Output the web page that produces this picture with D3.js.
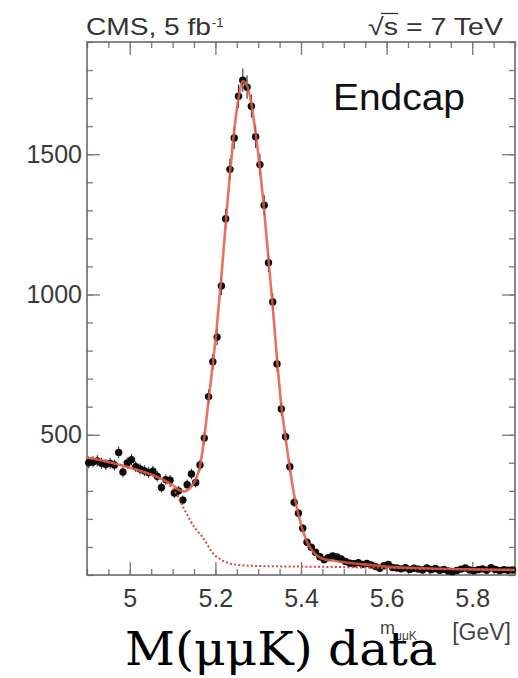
<!DOCTYPE html>
<html>
<head>
<meta charset="utf-8">
<script src="https://cdn.jsdelivr.net/npm/d3@7/dist/d3.min.js"></script>
<style>
  html, body { margin: 0; padding: 0; background: #fff; }
  svg { display: block; }
</style>
</head>
<body>
<svg id="chart" width="518" height="678"></svg>
<script>
// ---------- DATA ----------
const binMass = [4.904,4.914,4.924,4.934,4.944,4.954,4.964,4.974,4.984,4.994,
  5.004,5.014,5.024,5.034,5.044,5.054,5.064,5.074,5.084,5.094,
  5.104,5.114,5.124,5.134,5.144,5.154,5.164,5.174,5.184,5.194,
  5.204,5.214,5.224,5.234,5.244,5.254,5.264,5.274,5.284,5.294,
  5.304,5.314,5.324,5.334,5.344,5.354,5.364,5.374,5.384,5.394,
  5.404,5.414,5.424,5.434,5.444,5.454,5.464,5.474,5.484,5.494,
  5.504,5.514,5.524,5.534,5.544,5.554,5.564,5.574,5.584,5.594,
  5.604,5.614,5.624,5.634,5.644,5.654,5.664,5.674,5.684,5.694,
  5.704,5.714,5.724,5.734,5.744,5.754,5.764,5.774,5.784,5.794,
  5.804,5.814,5.824,5.834,5.844,5.854,5.864,5.874,5.884,5.894];
const counts = [400,403,407,398,394,398,392,437,367,399,
  411,386,378,372,365,370,352,312,340,338,
  292,300,267,322,360,330,392,488,636,760,
  848,1030,1270,1446,1558,1707,1764,1739,1671,1562,
  1463,1318,1113,973,752,592,493,386,259,220,
  167,117,99,81,65,54,62,68,64,57,
  48,42,40,44,38,41,36,30,24,33,
  38,27,25,22,26,20,24,21,18,25,
  19,23,17,20,14,12,16,21,25,18,
  15,19,22,17,26,20,16,19,17,18];

const fitMass = [4.900,4.950,5.000,5.050,5.080,5.100,5.115,5.124,5.134,5.144,
  5.154,5.164,5.174,5.184,5.194,5.204,5.214,5.224,5.234,5.244,
  5.254,5.264,5.274,5.284,5.294,5.304,5.314,5.324,5.334,5.344,
  5.354,5.364,5.374,5.384,5.394,5.404,5.414,5.424,5.434,5.444,
  5.454,5.480,5.520,5.560,5.600,5.650,5.700,5.800,5.900];
const fitValue = [419,403,383,358,338,321,303,298,302,316,
  340,388,490,622,752,895,1065,1250,1430,1585,
  1700,1760,1745,1680,1575,1450,1300,1125,955,770,
  605,488,380,285,215,160,118,92,74,63,
  56,50,42,36,30,26,23,20,18];

const bgMass = [4.900,4.950,5.000,5.050,5.080,5.090,5.100,5.110,5.120,5.130,
  5.140,5.150,5.164,5.170,5.180,5.190,5.200,5.210,5.220,5.230,
  5.240,5.260,5.300,5.400,5.500,5.600,5.700,5.800,5.900];
const bgValue = [419,403,383,357,337,325,308,285,256,226,
  198,172,146,135,112,86,69,58,49,43,
  39,35,32,30,28,25,22,20,18];

const xTicks = [5, 5.2, 5.4, 5.6, 5.8];
const xTickLabels = ["5", "5.2", "5.4", "5.6", "5.8"];
const yTicks = [500, 1000, 1500];
const yTickLabels = ["500", "1000", "1500"];

// ---------- LAYOUT ----------
const svg = d3.select("#chart");
const L = 87, R = 515, T = 42, B = 575;
const x = d3.scaleLinear().domain([4.9, 5.9]).range([L, R]);
const y = d3.scaleLinear().domain([0, 1900]).range([B, T]);

svg.append("rect").attr("width", 518).attr("height", 678).attr("fill", "#fff");

const tickColor = "#7a7a7a";
const fontSans = "'Liberation Sans', Arial, Helvetica, sans-serif";

function styleAxis(g) {
  g.select(".domain").remove();
  g.selectAll(".tick line").attr("stroke", tickColor).attr("stroke-width", 1.3);
  g.selectAll(".tick text").attr("fill", "#3a3a3a").attr("font-family", fontSans).attr("font-size", 25);
}

const xMinor = x.ticks(20);
const yMinor = y.ticks(19);

// minor ticks
svg.append("g").attr("transform", `translate(0,${B})`)
  .call(d3.axisBottom(x).tickValues(xMinor).tickSize(-6).tickFormat("")).call(styleAxis);
svg.append("g").attr("transform", `translate(0,${T})`)
  .call(d3.axisTop(x).tickValues(xMinor).tickSize(-6).tickFormat("")).call(styleAxis);
svg.append("g").attr("transform", `translate(${L},0)`)
  .call(d3.axisLeft(y).tickValues(yMinor).tickSize(-6).tickFormat("")).call(styleAxis);
svg.append("g").attr("transform", `translate(${R},0)`)
  .call(d3.axisRight(y).tickValues(yMinor).tickSize(-6).tickFormat("")).call(styleAxis);

// major ticks + labels
svg.append("g").attr("transform", `translate(0,${B})`)
  .call(d3.axisBottom(x).tickValues(xTicks).tickSize(-13).tickPadding(14)
    .tickFormat((d, i) => xTickLabels[i])).call(styleAxis);
svg.append("g").attr("transform", `translate(0,${T})`)
  .call(d3.axisTop(x).tickValues(xTicks).tickSize(-13).tickFormat("")).call(styleAxis);
svg.append("g").attr("transform", `translate(${L},0)`)
  .call(d3.axisLeft(y).tickValues(yTicks).tickSize(-13).tickPadding(5)
    .tickFormat((d, i) => yTickLabels[i])).call(styleAxis);
svg.append("g").attr("transform", `translate(${R},0)`)
  .call(d3.axisRight(y).tickValues(yTicks).tickSize(-13).tickFormat("")).call(styleAxis);

// frame
svg.append("rect").attr("x", L).attr("y", T).attr("width", R - L).attr("height", B - T)
  .attr("fill", "none").attr("stroke", "#6a6a6a").attr("stroke-width", 1.6);

// ---------- DATA POINTS ----------
const pts = binMass.map((m, i) => ({ m: m, v: counts[i] }));
const gPts = svg.append("g");
gPts.selectAll("line.err").data(pts).enter().append("line")
  .attr("class", "err")
  .attr("x1", d => x(d.m)).attr("x2", d => x(d.m))
  .attr("y1", d => y(Math.max(0, d.v - Math.sqrt(d.v))))
  .attr("y2", d => y(d.v + Math.sqrt(d.v)))
  .attr("stroke", "#222").attr("stroke-width", 1);
gPts.selectAll("circle").data(pts).enter().append("circle")
  .attr("cx", d => x(d.m)).attr("cy", d => y(d.v)).attr("r", 3.7)
  .attr("fill", "#0a0a0a");

// ---------- FIT CURVES ----------
const line = d3.line().x(d => x(d[0])).y(d => y(d[1])).curve(d3.curveMonotoneX);

svg.append("path")
  .datum(bgMass.map((m, i) => [m, bgValue[i]]))
  .attr("d", line).attr("fill", "none")
  .attr("stroke", "#e0452f").attr("stroke-width", 2).attr("stroke-dasharray", "2,2.2");

svg.append("path")
  .datum(fitMass.map((m, i) => [m, fitValue[i]]))
  .attr("d", line).attr("fill", "none")
  .attr("stroke", "#e25a44").attr("stroke-width", 2.6).attr("stroke-opacity", 0.85);

// ---------- TEXTS ----------
svg.append("text").attr("x", 86).attr("y", 35)
  .attr("font-family", fontSans).attr("font-size", 24).attr("fill", "#333")
  .attr("textLength", 125).attr("lengthAdjust", "spacingAndGlyphs")
  .text("CMS, 5 fb");
svg.append("text").attr("x", 212).attr("y", 27)
  .attr("font-family", fontSans).attr("font-size", 13).attr("fill", "#333")
  .text("-1");

svg.append("text").attr("x", 368).attr("y", 35)
  .attr("font-family", fontSans).attr("font-size", 24).attr("fill", "#333")
  .attr("textLength", 135).attr("lengthAdjust", "spacingAndGlyphs")
  .text("\u221As = 7 TeV");
svg.append("line").attr("x1", 381).attr("x2", 398).attr("y1", 13.5).attr("y2", 13.5)
  .attr("stroke", "#333").attr("stroke-width", 1.3);

svg.append("text").attr("x", 333).attr("y", 110)
  .attr("font-family", fontSans).attr("font-size", 37).attr("fill", "#111")
  .attr("textLength", 132).attr("lengthAdjust", "spacingAndGlyphs")
  .text("Endcap");

// axis title (partially hidden by the big caption, as in the original)
const at = svg.append("text").attr("x", 380).attr("y", 634)
  .attr("font-family", fontSans).attr("font-size", 18).attr("fill", "#444");
at.append("tspan").text("m");
at.append("tspan").attr("font-size", 12).attr("dy", 6).text("\u03BC\u03BCK");
svg.append("text").attr("x", 511).attr("y", 640).attr("text-anchor", "end")
  .attr("font-family", fontSans).attr("font-size", 23).attr("fill", "#444")
  .text("[GeV]");

svg.append("text").attr("x", 125).attr("y", 665)
  .attr("font-family", "'DejaVu Serif', 'Liberation Serif', serif").attr("font-size", 46)
  .attr("fill", "#000")
  .attr("textLength", 312).attr("lengthAdjust", "spacingAndGlyphs")
  .text("M(\u03BC\u03BCK) data");
</script>
</body>
</html>
